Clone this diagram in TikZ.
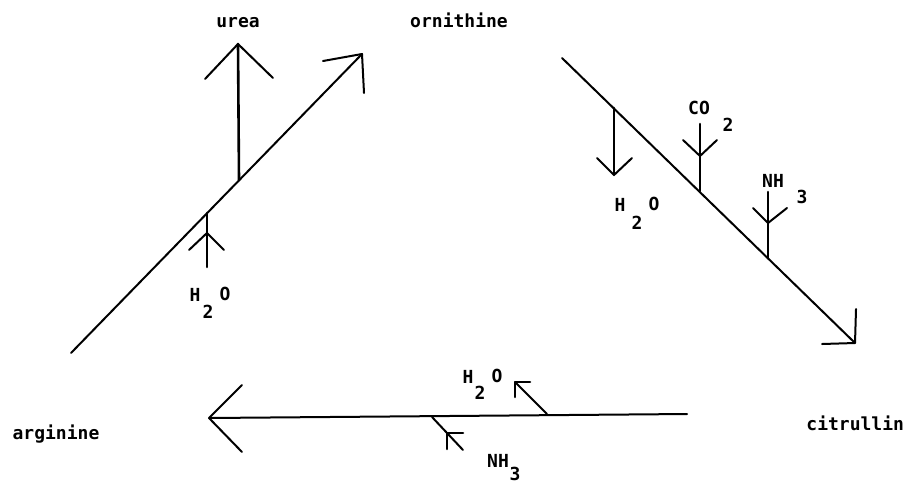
\documentclass[tikz,border=0pt]{standalone}
\usepackage{fontspec}
\newfontfamily\dm{DejaVu Sans Mono Bold}
\begin{document}
\begin{tikzpicture}[x=0.5pt,y=-0.5pt,
  ln/.style={line width=1pt,line cap=round,line join=round},
  stem/.style={line width=1.3pt,line cap=round,line join=round},
  lbl/.style={font=\dm\fontsize{9}{10}\selectfont,inner sep=0pt}]
\useasboundingbox (0,0) rectangle (908,483);
% labels
\node[lbl] (urea) at (238,23) {urea};
\node[lbl] (orn) at (459,20) {ornithine};
\node[lbl] (arg) at (56,434) {arginine};
\node[lbl,anchor=west] (cit) at (806,423) {citrullin};
% left line (arginine -> ornithine)
\coordinate (As) at (71,353);
\coordinate (Ae) at (362,54);
\coordinate (Ab1) at (323,61);
\coordinate (Ab2) at (364,93);
\draw[ln] (As) -- (Ae);
\draw[ln] (Ab1) -- (Ae) -- (Ab2);
% urea out
\coordinate (U0) at (239,180);
\coordinate (U1) at (238,44);
\draw[stem] (U0) -- (U1);
\draw[ln] (205,79) coordinate (Ub1) -- (U1) -- (273,78) coordinate (Ub2);
% H2O in (left)
\coordinate (W0) at (207,267);
\coordinate (Wt) at (207,233);
\coordinate (W1) at (207,213);
\draw[stem] (W0) -- (W1);
\draw[ln] (189,250) coordinate (Wb1) -- (Wt) -- (224,250) coordinate (Wb2);
\node[lbl] (wH) at (195,295) {H};
\node[lbl] (w2) at (208,312) {2};
\node[lbl] (wO) at (225,294) {O};
% right line (ornithine -> citrullin)
\coordinate (Bs) at (562,58);
\coordinate (Be) at (855,343);
\draw[ln] (Bs) -- (Be);
\draw[ln] (856,309) coordinate (Bb1) -- (Be) -- (822,344) coordinate (Bb2);
% H2O out (right)
\coordinate (R0) at (614,108);
\coordinate (R1) at (614,175);
\draw[stem] (R0) -- (R1);
\draw[ln] (597,158) coordinate (Rb1) -- (R1) -- (632,158) coordinate (Rb2);
\node[lbl] (rH) at (620,205) {H};
\node[lbl] (r2) at (637,223) {2};
\node[lbl] (rO) at (654,204) {O};
% CO2 in
\coordinate (C0) at (700,124);
\coordinate (Ct) at (700,156);
\coordinate (C1) at (700,191);
\draw[stem] (C0) -- (C1);
\draw[ln] (683,140) coordinate (Cb1) -- (Ct) -- (717,140) coordinate (Cb2);
\node[lbl] (co) at (699,108) {CO};
\node[lbl] (c2) at (728,125) {2};
% NH3 in (right)
\coordinate (N0) at (768,192);
\coordinate (Nt) at (768,223);
\coordinate (N1) at (768,258);
\draw[stem] (N0) -- (N1);
\draw[ln] (753,208) coordinate (Nb1) -- (Nt) -- (787,208) coordinate (Nb2);
\node[lbl] (nh) at (773,181) {NH};
\node[lbl] (n3) at (802,197) {3};
% bottom line (citrullin -> arginine)
\coordinate (Cs) at (687,414);
\coordinate (Ce) at (209,418);
\draw[ln] (Cs) -- (Ce);
\draw[ln] (242,385) coordinate (Cb1) -- (Ce) -- (242,452) coordinate (Cb2);
% H2O in (bottom)
\coordinate (H0) at (547,414);
\coordinate (H1) at (515,382);
\draw[ln] (H0) -- (H1);
\draw[stem] (530,382) coordinate (Hb1) -- (H1) -- (515,397) coordinate (Hb2);
\node[lbl] (bH) at (468,377) {H};
\node[lbl] (b2) at (480,393) {2};
\node[lbl] (bO) at (497,376) {O};
% NH3 out (bottom)
\coordinate (K0) at (432,417);
\coordinate (Kt) at (447,433);
\coordinate (K1) at (463,450);
\draw[ln] (K0) -- (K1);
\draw[stem] (463,433) coordinate (Kb1) -- (Kt) -- (447,449) coordinate (Kb2);
\node[lbl] (kNH) at (498,461) {NH};
\node[lbl] (k3) at (515,474) {3};
\end{tikzpicture}
\end{document}
